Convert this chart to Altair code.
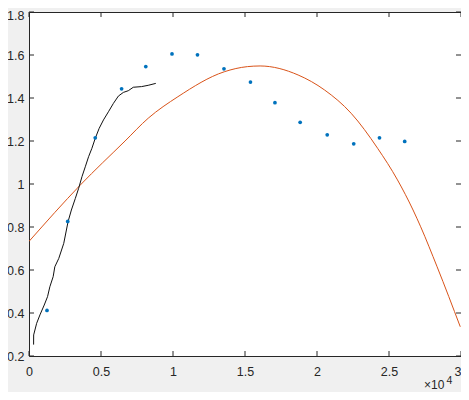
import altair as alt
import pandas as pd

# ---- data ----
scatter_x = [1250, 2690, 4600, 6430, 8110, 9930, 11700, 13540, 15380, 17080,
             18830, 20710, 22550, 24340, 26090]
scatter_y = [0.412, 0.826, 1.215, 1.443, 1.546, 1.605, 1.601, 1.536, 1.474, 1.378,
             1.287, 1.229, 1.187, 1.215, 1.198]

fit_x = [0, 3560, 6670, 8280, 10340, 13560, 15170, 16050, 18690, 20530,
         22370, 24210, 25590, 26670, 27200, 28340, 29950]
fit_y = [0.733, 0.995, 1.200, 1.306, 1.406, 1.522, 1.546, 1.549, 1.507, 1.437,
         1.329, 1.166, 1.019, 0.879, 0.801, 0.615, 0.336]

black_x = [320, 324, 531, 759, 1057, 1287, 1448, 1678, 1793, 2069, 2414, 2713,
           2943, 3218, 3448, 3678, 3908, 4138, 4368, 4598, 4874, 5172, 5517,
           5862, 6207, 6552, 6897, 7241, 7816, 8276, 8805]
black_y = [0.253, 0.298, 0.352, 0.391, 0.437, 0.476, 0.522, 0.569, 0.615, 0.654,
           0.724, 0.825, 0.879, 0.933, 0.980, 1.034, 1.080, 1.127, 1.166, 1.212,
           1.259, 1.298, 1.336, 1.375, 1.409, 1.426, 1.434, 1.450, 1.453, 1.459,
           1.468]

x_ticks = [0, 5000, 10000, 15000, 20000, 25000, 30000]
y_ticks = [0.2, 0.4, 0.6, 0.8, 1.0, 1.2, 1.4, 1.6, 1.8]

W, H = 432, 344
FONT = "Liberation Sans"
TXT = "#262626"

xs = alt.Scale(domain=[0, 30000], nice=False, zero=False)
ys = alt.Scale(domain=[0.2, 1.8], nice=False, zero=False)

xaxis = alt.Axis(values=x_ticks, title=None, grid=False, domain=False, ticks=False,
                 tickSize=0, labelPadding=9, labelFlush=False, labelOverlap=False,
                 labelExpr="format(datum.value/10000, '.1~f')",
                 labelAlign={"condition": {"test": "datum.value >= 29999", "value": "right"},
                             "value": "center"},
                 labelFont=FONT, labelFontSize=12.5, labelColor=TXT)
yaxis = alt.Axis(values=y_ticks, title=None, grid=False, domain=False, ticks=False,
                 tickSize=0, labelPadding=5, labelFlush=False, labelOverlap=False,
                 labelExpr="format(datum.value, '.1~f')",
                 labelOffset={"condition": {"test": "datum.value > 1.79", "value": 3},
                              "value": 0},
                 labelFont=FONT, labelFontSize=12.5, labelColor=TXT)

fit_df = pd.DataFrame({"x": fit_x, "y": fit_y})
black_df = pd.DataFrame({"x": black_x, "y": black_y})
sc_df = pd.DataFrame({"x": scatter_x, "y": scatter_y})
xt_df = pd.DataFrame({"v": x_ticks})
yt_df = pd.DataFrame({"v": y_ticks})

fit = alt.Chart(fit_df).mark_line(color="#D95319", strokeWidth=1,
                                  interpolate="monotone", clip=True).encode(
    x=alt.X("x:Q", scale=xs, axis=xaxis),
    y=alt.Y("y:Q", scale=ys, axis=yaxis),
)
black = alt.Chart(black_df).mark_line(color="#111111", strokeWidth=1, clip=True).encode(
    x=alt.X("x:Q", scale=xs), y=alt.Y("y:Q", scale=ys)
)
dots = alt.Chart(sc_df).mark_circle(color="#0072BD", size=14, opacity=1).encode(
    x=alt.X("x:Q", scale=xs), y=alt.Y("y:Q", scale=ys)
)

TL = 5
bt = alt.Chart(xt_df).mark_rule(color=TXT, strokeWidth=1).encode(
    x=alt.X("v:Q", scale=xs), y=alt.value(H), y2=alt.value(H - TL))
tt = alt.Chart(xt_df).mark_rule(color=TXT, strokeWidth=1).encode(
    x=alt.X("v:Q", scale=xs), y=alt.value(0), y2=alt.value(TL))
lt = alt.Chart(yt_df).mark_rule(color=TXT, strokeWidth=1).encode(
    y=alt.Y("v:Q", scale=ys), x=alt.value(0), x2=alt.value(TL))
rt = alt.Chart(yt_df).mark_rule(color=TXT, strokeWidth=1).encode(
    y=alt.Y("v:Q", scale=ys), x=alt.value(W), x2=alt.value(W - TL))

exp_base = alt.Chart(pd.DataFrame({"t": ["×10"]})).mark_text(
    align="left", baseline="alphabetic", font=FONT, fontSize=12, color=TXT
).encode(x=alt.value(395), y=alt.value(377), text="t:N")
exp_sup = alt.Chart(pd.DataFrame({"t": ["4"]})).mark_text(
    align="left", baseline="alphabetic", font=FONT, fontSize=10.5, color=TXT
).encode(x=alt.value(417.5), y=alt.value(372), text="t:N")

chart = alt.layer(fit, black, dots, bt, tt, lt, rt, exp_base, exp_sup).properties(
    width=W, height=H,
    autosize=alt.AutoSizeParams(type="none"),
    padding={"left": 21, "top": 4, "right": 0, "bottom": 36},
    background="#F0F0F0",
).configure_view(fill="white", stroke=TXT, strokeWidth=1)

chart.save("out.html", embed_options={"renderer": "svg", "actions": False})
